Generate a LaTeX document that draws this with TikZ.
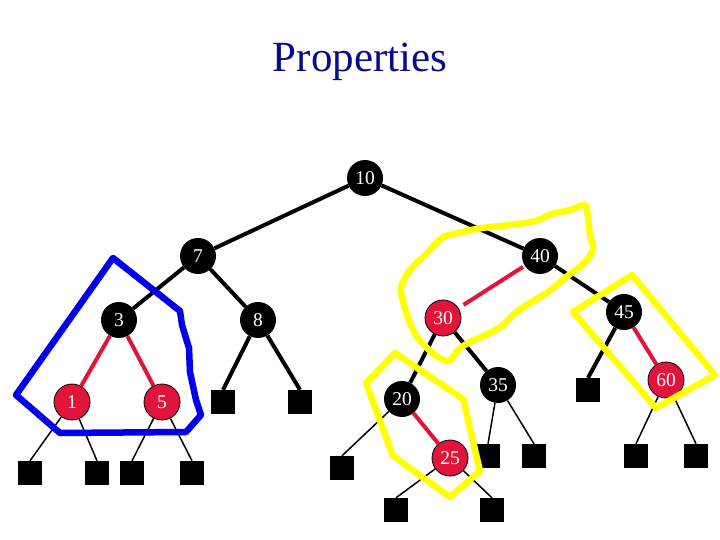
\documentclass[tikz,border=0pt]{standalone}
\usepackage{fontspec}
\setmainfont{Liberation Serif}
\definecolor{rbred}{RGB}{225,20,60}
\definecolor{titleblue}{RGB}{10,10,140}
\definecolor{hlyellow}{RGB}{255,255,0}
\definecolor{hlblue}{RGB}{0,0,235}
\tikzset{
  bnode/.style={circle,fill=black,minimum size=36pt,inner sep=0pt,text=white,font=\fontsize{19.5}{19.5}\selectfont},
  rnode/.style={circle,fill=rbred,draw=black,line width=0.8pt,minimum size=36pt,inner sep=0pt,text=white,font=\fontsize{19.5}{19.5}\selectfont},
  leaf/.style={rectangle,fill=black,minimum size=24pt,inner sep=0pt},
  bedge/.style={line width=4pt,black},
  redge/.style={line width=4pt,rbred},
  ledge/.style={line width=1.5pt,black},
  yline/.style={line width=6.5pt,hlyellow,line join=round,line cap=round},
  bline/.style={line width=6.5pt,hlblue,line join=round,line cap=round}
}
\begin{document}
\begin{tikzpicture}[x=1pt,y=-1pt]
\useasboundingbox (0,0) rectangle (720,540);
\node[text=titleblue,font=\fontsize{43}{43}\selectfont] (title) at (360,62) {Properties};
% internal nodes
\node[bnode] (n10) at (365,178) {10};
\node[bnode] (n7) at (198,256) {7};
\node[bnode] (n40) at (540,256) {40};
\node[bnode] (n3) at (119,320) {3};
\node[bnode] (n8) at (258,320) {8};
\node[rnode] (n1) at (72,402) {1};
\node[rnode] (n5) at (162,402) {5};
\node[rnode] (n30) at (443,318) {30};
\node[bnode] (n45) at (624,312) {45};
\node[bnode] (n20) at (402,399) {20};
\node[bnode] (n35) at (498,385) {35};
\node[rnode] (n60) at (666,380) {60};
\node[rnode] (n25) at (450,458) {25};
% leaves
\node[leaf] (l1a) at (30,473) {};
\node[leaf] (l1b) at (97,473) {};
\node[leaf] (l5a) at (132,473) {};
\node[leaf] (l5b) at (192,473) {};
\node[leaf] (l8a) at (223,402) {};
\node[leaf] (l8b) at (300,402) {};
\node[leaf] (l20a) at (342,468) {};
\node[leaf] (l25a) at (396,510) {};
\node[leaf] (l25b) at (492,510) {};
\node[leaf] (l35a) at (488,456) {};
\node[leaf] (l35b) at (534,456) {};
\node[leaf] (l45a) at (588,390) {};
\node[leaf] (l60a) at (636,456) {};
\node[leaf] (l60b) at (696,456) {};
% edges
\draw[bedge] (n10) -- (n7);
\draw[bedge] (n10) -- (n40);
\draw[bedge] (n7) -- (n3);
\draw[bedge] (n7) -- (n8);
\draw[redge] (n3) -- (n1);
\draw[redge] (n3) -- (n5);
\draw[redge,shorten <=2pt,shorten >=6pt] (n40) -- (n30);
\draw[bedge] (n40) -- (n45);
\draw[bedge] (n30) -- (n20);
\draw[bedge] (n30) -- (n35);
\draw[redge] (n45) -- (n60);
\draw[redge] (n20) -- (n25);
\draw[bedge] (n8) -- (l8a.north);
\draw[bedge] (n8) -- (l8b.north);
\draw[bedge] (n45) -- (l45a.north);
\draw[ledge] (n1) -- (l1a.north);
\draw[ledge] (n1) -- (l1b.north);
\draw[ledge] (n5) -- (l5a.north);
\draw[ledge] (n5) -- (l5b.north);
\draw[ledge] (n20) -- (l20a.north);
\draw[ledge] (n25) -- (l25a.north);
\draw[ledge] (n25) -- (l25b.north);
\draw[ledge] (n35) -- (l35a.north);
\draw[ledge] (n35) -- (l35b.north);
\draw[ledge] (n60) -- (l60a.north);
\draw[ledge] (n60) -- (l60b.north);
% highlights
\draw[bline] (113,258) -- (180,311) -- (182,325) -- (189,348) -- (190,372) -- (196,400) -- (201,415) -- (186,432) -- (60,433) -- (16,395) -- cycle;
\draw[yline] plot[smooth cycle,tension=0.5] coordinates {(401,288) (410,270) (425,255) (442,238) (458,233) (482,228) (510,225) (535,221) (552,214) (570,210) (585,205) (588,218) (590,235) (593,249) (584,263) (565,278) (548,292) (530,303) (515,313) (503,325) (488,334) (472,341) (459,349) (449,361) (438,357) (428,349) (417,337) (409,321) (404,305)};
\draw[yline] (395,353) -- (463,399) -- (480,471) -- (450,497) -- (393,456) -- (366,383) -- cycle;
\draw[yline] (573,312) -- (632,275) -- (715,375) -- (656,408) -- cycle;
\end{tikzpicture}
\end{document}
